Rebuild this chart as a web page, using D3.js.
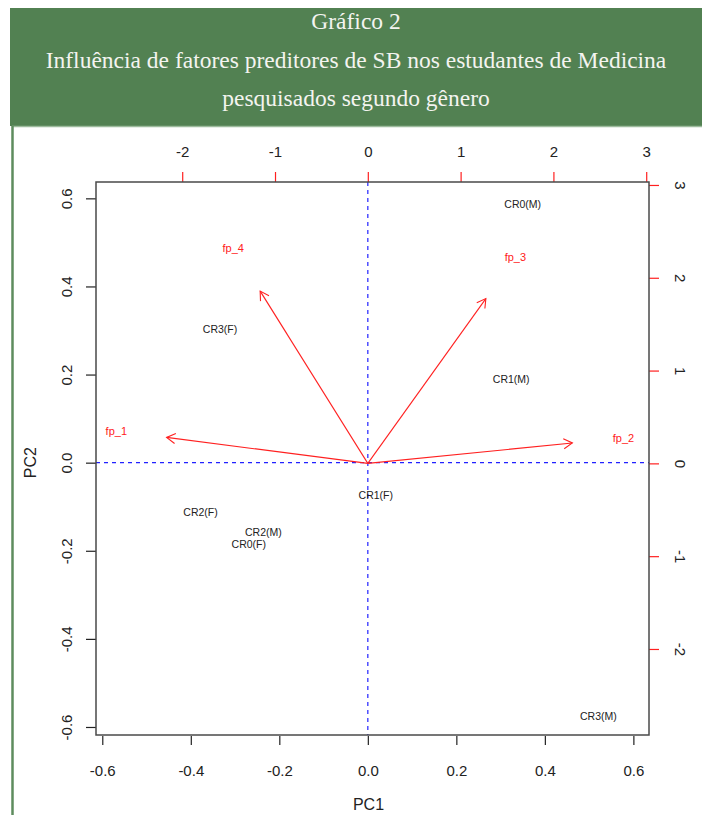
<!DOCTYPE html>
<html>
<head>
<meta charset="utf-8">
<script src="https://cdn.jsdelivr.net/npm/d3@7"></script>
<style>
  html, body { margin: 0; padding: 0; background: #ffffff; }
  svg { display: block; }
</style>
</head>
<body>
<svg id="chart" width="702" height="815"></svg>
<script>
// ---- data ----
const titleLines = ["Gráfico 2", "Influência de fatores preditores de SB nos estudantes de Medicina", "pesquisados segundo gênero"];
const scoreLabels = ["CR0(M)", "CR1(M)", "CR1(F)", "CR2(F)", "CR2(M)", "CR0(F)", "CR3(F)", "CR3(M)"];
const scorePC1 = [0.350, 0.324, 0.018, -0.378, -0.236, -0.269, -0.334, 0.521];
const scorePC2 = [0.587, 0.189, -0.074, -0.112, -0.157, -0.185, 0.304, -0.574];
const loadLabels = ["fp_1", "fp_2", "fp_3", "fp_4"];
const loadPC1 = [-2.71, 2.755, 1.59, -1.45];
const loadPC2 = [0.35, 0.275, 2.22, 2.32];
const bottomTicks = [-0.6, -0.4, -0.2, 0.0, 0.2, 0.4, 0.6];
const leftTicks = [-0.6, -0.4, -0.2, 0.0, 0.2, 0.4, 0.6];
const topTicks = [-2, -1, 0, 1, 2, 3];
const rightTicks = [-2, -1, 0, 1, 2, 3];
const xTitle = "PC1", yTitle = "PC2";

// ---- layout ----
const svg = d3.select("#chart");
const L = 96, R = 649, T = 182, B = 735;
const green = "#528152";

// banner
svg.append("rect").attr("x", 10).attr("y", 8).attr("width", 692).attr("height", 118).attr("fill", green);
svg.append("line").attr("x1", 12).attr("x2", 702).attr("y1", 126.5).attr("y2", 126.5).attr("stroke", "#9dbb9d").attr("stroke-width", 1.5);
svg.append("line").attr("x1", 12.5).attr("x2", 12.5).attr("y1", 126).attr("y2", 815).attr("stroke", "#5e8c5e").attr("stroke-width", 2.5);

const titleY = [29, 68, 106];
const tg = svg.append("g");
const tTexts = tg.selectAll("text").data(titleLines).join("text")
  .attr("x", 356).attr("y", (d, i) => titleY[i])
  .attr("text-anchor", "middle")
  .attr("font-family", "'Liberation Serif', 'DejaVu Serif', serif")
  .attr("font-size", 22).attr("fill", "#f4f4f0")
  .text(d => d);
const w2 = tTexts.nodes()[1].getComputedTextLength();
const fs = 22 * 621 / w2;
tTexts.attr("font-size", fs);

// scales
const x = d3.scaleLinear().domain([-0.6142, 0.6353]).range([L, R]);
const y = d3.scaleLinear().domain([-0.6182, 0.6371]).range([B, T]);
const x2 = d3.scaleLinear().domain([-2.929, 3.030]).range([L, R]);
const y2 = d3.scaleLinear().domain([-2.927, 3.032]).range([B, T]);

const sans = "'Liberation Sans', Arial, sans-serif";

// dashed reference lines
svg.append("line").attr("x1", L).attr("x2", R).attr("y1", y(0)).attr("y2", y(0))
  .attr("stroke", "#2222ff").attr("stroke-dasharray", "4,4").attr("stroke-width", 1.2);
svg.append("line").attr("x1", x(0)).attr("x2", x(0)).attr("y1", T).attr("y2", B)
  .attr("stroke", "#2222ff").attr("stroke-dasharray", "4,4").attr("stroke-width", 1.2);

// axes
function styleAxis(g, tickColor) {
  g.select(".domain").remove();
  g.selectAll(".tick line").attr("stroke", tickColor).attr("stroke-width", 1.2);
  g.selectAll(".tick text").attr("font-family", sans).attr("font-size", 15).attr("fill", "#222");
}
const fmt1 = d => d.toFixed(1);
const fmt0 = d => String(d);
const gb = svg.append("g").attr("transform", `translate(0,${B + 1})`)
  .call(d3.axisBottom(x).tickValues(bottomTicks).tickFormat(fmt1).tickSize(9).tickPadding(20));
styleAxis(gb, "#222");
const gl = svg.append("g").attr("transform", `translate(${L},0)`)
  .call(d3.axisLeft(y).tickValues(leftTicks).tickFormat(fmt1).tickSize(10).tickPadding(14));
styleAxis(gl, "#222");
gl.selectAll(".tick text").attr("text-anchor", "middle").attr("dy", 0)
  .attr("transform", `translate(${-30},0) rotate(-90)`)
  .attr("x", 0).attr("y", 0).attr("dominant-baseline", "central");
const gt = svg.append("g").attr("transform", `translate(0,${T})`)
  .call(d3.axisTop(x2).tickValues(topTicks).tickFormat(fmt0).tickSize(10).tickPadding(15));
styleAxis(gt, "#ff2020");
const gr = svg.append("g").attr("transform", `translate(${R},0)`)
  .call(d3.axisRight(y2).tickValues(rightTicks).tickFormat(fmt0).tickSize(10).tickPadding(15));
styleAxis(gr, "#ff2020");
gr.selectAll(".tick text").attr("text-anchor", "middle").attr("dy", 0)
  .attr("transform", `translate(${31},0) rotate(90)`)
  .attr("x", 0).attr("y", 0).attr("dominant-baseline", "central");

// box
svg.append("rect").attr("x", L).attr("y", T).attr("width", R - L).attr("height", B - T)
  .attr("fill", "none").attr("stroke", "#4a4a4a").attr("stroke-width", 1.5);

// axis titles
svg.append("text").attr("x", (L + R) / 2 - 4).attr("y", 810).attr("text-anchor", "middle")
  .attr("font-family", sans).attr("font-size", 16).attr("fill", "#222").text(xTitle);
svg.append("text").attr("transform", `translate(36,${y(0)}) rotate(-90)`).attr("text-anchor", "middle")
  .attr("font-family", sans).attr("font-size", 16).attr("fill", "#222").text(yTitle);

// score labels
svg.append("g").selectAll("text").data(scoreLabels).join("text")
  .attr("x", (d, i) => x(scorePC1[i])).attr("y", (d, i) => y(scorePC2[i]))
  .attr("text-anchor", "middle").attr("dominant-baseline", "central")
  .attr("font-family", sans).attr("font-size", 10.5).attr("fill", "#222")
  .text(d => d);

// loading arrows (drawn to 0.8 of loading, as R's biplot does)
const ag = svg.append("g").attr("stroke", "#ff2020").attr("fill", "none").attr("stroke-width", 1.1);
const ox = x2(0), oy = y2(0);
loadLabels.forEach((lab, i) => {
  const tx = x2(0.8 * loadPC1[i]), ty = y2(0.8 * loadPC2[i]);
  ag.append("line").attr("x1", ox).attr("y1", oy).attr("x2", tx).attr("y2", ty);
  const ang = Math.atan2(ty - oy, tx - ox);
  const hl = 10, ha = Math.PI / 6;
  const p1 = [tx - hl * Math.cos(ang - ha), ty - hl * Math.sin(ang - ha)];
  const p2 = [tx - hl * Math.cos(ang + ha), ty - hl * Math.sin(ang + ha)];
  ag.append("path").attr("d", `M${p1[0]},${p1[1]}L${tx},${ty}L${p2[0]},${p2[1]}`);
});
svg.append("g").selectAll("text").data(loadLabels).join("text")
  .attr("x", (d, i) => x2(loadPC1[i])).attr("y", (d, i) => y2(loadPC2[i]))
  .attr("text-anchor", "middle").attr("dominant-baseline", "central")
  .attr("font-family", sans).attr("font-size", 11).attr("fill", "#ff2020")
  .text(d => d);
</script>
</body>
</html>
